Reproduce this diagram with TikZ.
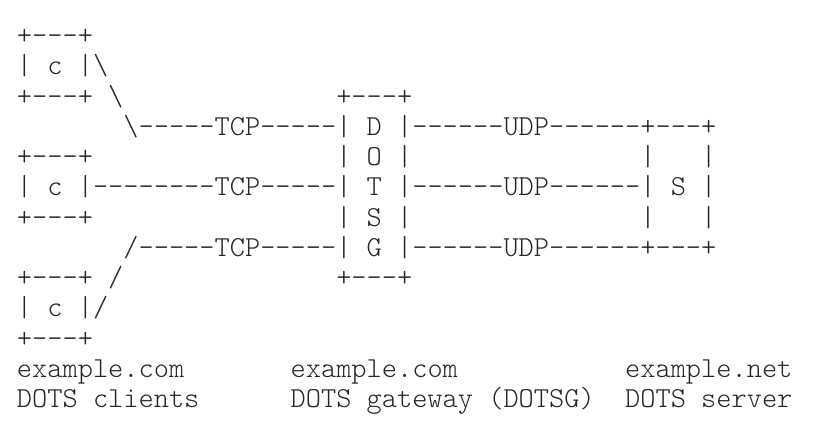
\documentclass[tikz,border=0pt]{standalone}
\usepackage{fontspec}
\setmonofont{lmmonolt10-regular.otf}
\usetikzlibrary{positioning}
\tikzset{asciirow/.style={font=\ttfamily\fontsize{14.48}{15.1}\selectfont, text=black!85, inner sep=0pt, outer sep=0pt, text height=10.5pt, text depth=4.625pt}}

\begin{document}
\begin{tikzpicture}
    \fill[white] (0,0) rectangle (408.5pt,215pt);
    \useasboundingbox (0,0) rectangle (408.5pt,215pt);
    \node[asciirow, anchor=north west] (r1) at (8.5pt,203.2pt) {+---+};
    \node[asciirow, below right=0pt and 0pt of r1.south west] (r2) {|~c~|\textbackslash};
    \node[asciirow, below right=0pt and 0pt of r2.south west] (r3) {+---+~\textbackslash~~~~~~~~~~~~~~+---+};
    \node[asciirow, below right=0pt and 0pt of r3.south west] (r4) {~~~~~~~\textbackslash-----TCP-----|~D~|------UDP------+---+};
    \node[asciirow, below right=0pt and 0pt of r4.south west] (r5) {+---+~~~~~~~~~~~~~~~~|~O~|~~~~~~~~~~~~~~~|~~~|};
    \node[asciirow, below right=0pt and 0pt of r5.south west] (r6) {|~c~|--------TCP-----|~T~|------UDP------|~S~|};
    \node[asciirow, below right=0pt and 0pt of r6.south west] (r7) {+---+~~~~~~~~~~~~~~~~|~S~|~~~~~~~~~~~~~~~|~~~|};
    \node[asciirow, below right=0pt and 0pt of r7.south west] (r8) {~~~~~~~/-----TCP-----|~G~|------UDP------+---+};
    \node[asciirow, below right=0pt and 0pt of r8.south west] (r9) {+---+~/~~~~~~~~~~~~~~+---+};
    \node[asciirow, below right=0pt and 0pt of r9.south west] (r10) {|~c~|/};
    \node[asciirow, below right=0pt and 0pt of r10.south west] (r11) {+---+};
    % labels under the three parties
    \node[asciirow, below right=0pt and 0pt of r11.south west] (r12) {example.com~~~~~~~example.com~~~~~~~~~~~example.net};
    \node[asciirow, below right=0pt and 0pt of r12.south west] (r13) {DOTS~clients~~~~~~DOTS~gateway~(DOTSG)~~DOTS~server};
\end{tikzpicture}
\end{document}
